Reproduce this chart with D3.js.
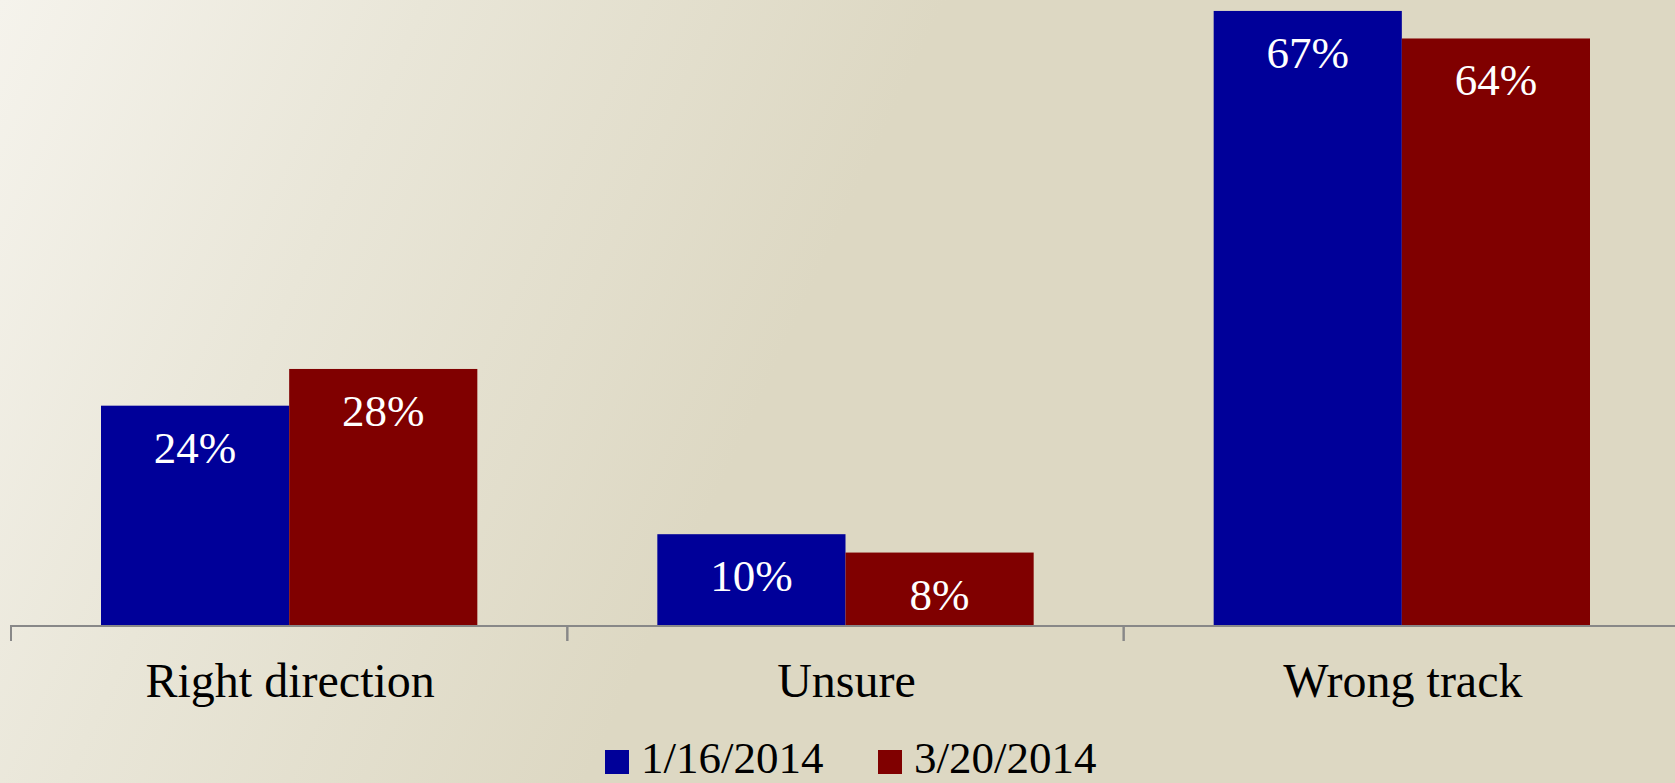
<!DOCTYPE html>
<html>
<head>
<meta charset="utf-8">
<script src="https://cdn.jsdelivr.net/npm/d3@7"></script>
<style>
  html, body { margin: 0; padding: 0; overflow: hidden; }
  svg { display: block; }
</style>
</head>
<body>
<div id="chart"></div>
<script>
const categories = ["Right direction", "Unsure", "Wrong track"];
const seriesNames = ["1/16/2014", "3/20/2014"];
const seriesJan = [24, 10, 67];
const seriesMar = [28, 8, 64];
const seriesColors = ["#000099", "#800000"];

const W = 1675, H = 783;
const svg = d3.select("#chart").append("svg").attr("width", W).attr("height", H);

const defs = svg.append("defs");
const grad = defs.append("linearGradient").attr("id", "bg")
  .attr("gradientUnits", "userSpaceOnUse")
  .attr("x1", 0).attr("y1", 0).attr("x2", 780).attr("y2", 360);
grad.append("stop").attr("offset", "0%").attr("stop-color", "#f5f3ec");
grad.append("stop").attr("offset", "45%").attr("stop-color", "#e9e6d8");
grad.append("stop").attr("offset", "100%").attr("stop-color", "#ddd8c3");
svg.append("rect").attr("width", W).attr("height", H).attr("fill", "url(#bg)");

const axisY = 626;
const x0 = d3.scaleBand().domain(categories).range([11, 1680]).padding(0);
const groupPad = 90;
const x1 = d3.scaleBand().domain(seriesNames).range([groupPad, x0.bandwidth() - groupPad]).padding(0);
const y = d3.scaleLinear().domain([0, 70]).range([axisY, axisY - 70 * 9.18]);

const data = categories.map((c, i) => ({
  cat: c,
  vals: [
    { s: seriesNames[0], v: seriesJan[i], color: seriesColors[0] },
    { s: seriesNames[1], v: seriesMar[i], color: seriesColors[1] }
  ]
}));

const groups = svg.append("g").selectAll("g").data(data).join("g")
  .attr("transform", d => `translate(${x0(d.cat)},0)`);

groups.selectAll("rect").data(d => d.vals).join("rect")
  .attr("x", d => x1(d.s))
  .attr("y", d => y(d.v))
  .attr("width", x1.bandwidth())
  .attr("height", d => y(0) - y(d.v))
  .attr("fill", d => d.color);

groups.selectAll("text").data(d => d.vals).join("text")
  .attr("x", d => x1(d.s) + x1.bandwidth() / 2)
  .attr("y", d => y(d.v) + 57)
  .attr("text-anchor", "middle")
  .attr("fill", "#ffffff")
  .style("font-family", "'Liberation Serif', 'Times New Roman', serif")
  .style("font-size", "45px")
  .text(d => d.v + "%");

// x axis
const axis = d3.axisBottom(x0).tickSize(15).tickSizeOuter(0).tickFormat("");
const gAxis = svg.append("g").attr("transform", `translate(0,${axisY})`).call(axis);
gAxis.select(".domain").attr("stroke", "#888888").attr("stroke-width", 2)
  .attr("d", `M11,0V15V0H1675`);
gAxis.selectAll(".tick").attr("transform", d => `translate(${x0(d)},0)`);
gAxis.selectAll(".tick line").attr("stroke", "#888888").attr("stroke-width", 2);
const boundaries = categories.map(c => x0(c)).slice(1);
gAxis.selectAll(".bnd").data(boundaries).join("line").attr("class", "bnd")
  .attr("x1", d => d).attr("x2", d => d).attr("y1", 0).attr("y2", 15)
  .attr("stroke", "#888888").attr("stroke-width", 2);

svg.append("g").selectAll("text").data(categories).join("text")
  .attr("x", d => x0(d) + x0.bandwidth() / 2 + 1)
  .attr("y", 697)
  .attr("text-anchor", "middle")
  .attr("fill", "#000000")
  .style("font-family", "'Liberation Serif', 'Times New Roman', serif")
  .style("font-size", "48px")
  .text(d => d);

// legend
const legendItems = [
  { name: seriesNames[0], color: seriesColors[0], x: 605 },
  { name: seriesNames[1], color: seriesColors[1], x: 878 }
];
const lg = svg.append("g").selectAll("g").data(legendItems).join("g")
  .attr("transform", d => `translate(${d.x},0)`);
lg.append("rect").attr("x", 0).attr("y", 750).attr("width", 24).attr("height", 24)
  .attr("fill", d => d.color);
lg.append("text").attr("x", 36).attr("y", 773)
  .attr("fill", "#000000")
  .style("font-family", "'Liberation Serif', 'Times New Roman', serif")
  .style("font-size", "45px")
  .text(d => d.name);
</script>
</body>
</html>
